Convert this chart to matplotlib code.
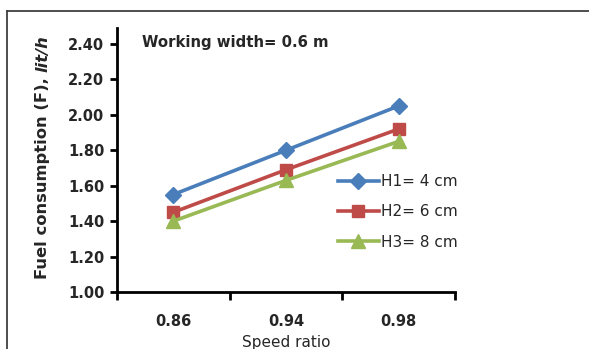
import matplotlib
matplotlib.use("Agg")
import matplotlib.pyplot as plt
from matplotlib.lines import Line2D

speed_ratio = ["0.86", "0.94", "0.98"]
h1_fuel = [1.55, 1.80, 2.05]
h2_fuel = [1.45, 1.69, 1.92]
h3_fuel = [1.40, 1.63, 1.85]
series_labels = ["H1= 4 cm", "H2= 6 cm", "H3= 8 cm"]
y_ticks = [1.00, 1.20, 1.40, 1.60, 1.80, 2.00, 2.20, 2.40]

plt.rcParams["font.family"] = ["DejaVu Sans"]
TXT = "#262626"

W, H = 589, 349
fig = plt.figure(figsize=(W / 100, H / 100), dpi=100)
fig.patch.set_facecolor("white")

# outer chart frame (top and left edges visible)
fig.add_artist(Line2D([7 / W, 1.0], [1 - 11 / H, 1 - 11 / H], transform=fig.transFigure,
                      color="#404040", lw=1.3))
fig.add_artist(Line2D([7 / W, 7 / W], [1 - 11 / H, 0.0], transform=fig.transFigure,
                      color="#404040", lw=1.3))

ax = fig.add_axes([117 / W, 1 - 292 / H, (455 - 117) / W, (292 - 28) / H])
x = list(range(len(speed_ratio)))

styles = [("#4A7EBB", "D", 8.5), ("#BE4B48", "s", 9), ("#98B954", "^", 10)]
for vals, lab, (c, m, ms) in zip([h1_fuel, h2_fuel, h3_fuel], series_labels, styles):
    ax.plot(x, vals, color=c, lw=2.6, marker=m, markersize=ms,
            markeredgecolor=c, markerfacecolor=c, label=lab)

ax.set_xlim(-0.5, len(speed_ratio) - 0.5)
ax.set_ylim(1.0, 2.49)
ax.set_yticks(y_ticks)
ax.set_yticklabels([f"{v:.2f}" for v in y_ticks], fontsize=10.5, fontweight="bold", color=TXT)

# category axis: tick marks between categories, labels centred on categories
ax.set_xticks([i - 0.5 for i in range(len(speed_ratio) + 1)])
ax.set_xticklabels([])
ax.set_xticks(x, minor=True)
ax.set_xticklabels(speed_ratio, minor=True, fontsize=10.5, fontweight="bold", color=TXT)
ax.tick_params(axis="x", which="minor", length=0, pad=16)
ax.tick_params(axis="x", which="major", direction="out", length=6, width=2)
ax.tick_params(axis="y", direction="out", length=5, width=2, pad=4)

for side in ["top", "right"]:
    ax.spines[side].set_visible(False)
for side in ["left", "bottom"]:
    ax.spines[side].set_linewidth(2)
    ax.spines[side].set_color("black")

ax.text(0.075, 0.945, "Working width= 0.6 m", transform=ax.transAxes,
        fontsize=10.7, fontweight="bold", color=TXT, ha="left", va="center")

leg = ax.legend(loc="upper left", bbox_to_anchor=(0.635, 0.47), frameon=False,
                fontsize=11, handlelength=2.7, handletextpad=0.1,
                labelspacing=1.0, borderaxespad=0)
for t in leg.get_texts():
    t.set_color(TXT)

fig.text(286 / W, 1 - 342 / H, "Speed ratio", fontsize=11, ha="center", va="center",
         color=TXT)

# y-axis title: bold part followed by bold-italic unit
t1 = fig.text(43 / W, 1 - 279 / H, "Fuel consumption (F), ", rotation=90, fontsize=11.8,
              fontweight="bold", ha="center", va="bottom", color=TXT)
fig.canvas.draw()
bb = t1.get_window_extent(fig.canvas.get_renderer())
fig.text(43 / W, bb.y1 / H, "lit/h", rotation=90, fontsize=11.8, fontweight="bold",
         fontstyle="italic", ha="center", va="bottom", color=TXT)

fig.savefig("out.png", dpi=100, facecolor="white")
